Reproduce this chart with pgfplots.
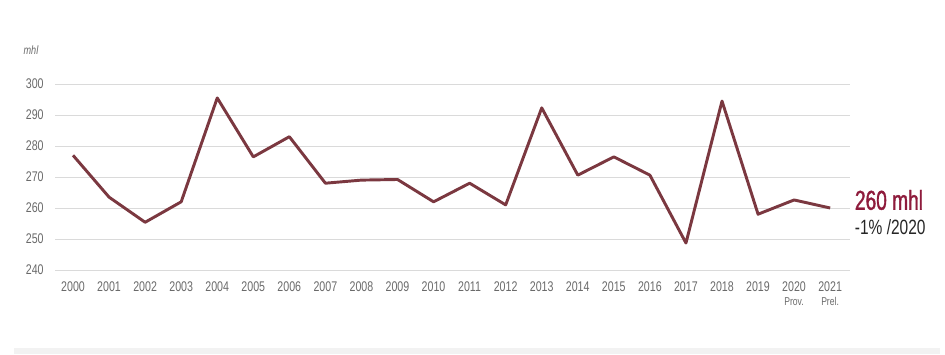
\documentclass[border=0pt]{standalone}
\usepackage{fontspec}
\setmainfont{Liberation Sans}[FakeStretch=0.76]
\usepackage{pgfplots}
\pgfplotsset{compat=1.18}
\definecolor{linec}{HTML}{7B3840}
\definecolor{accent}{HTML}{8E1B3C}
\definecolor{gridc}{HTML}{DADADA}
\definecolor{tickc}{HTML}{6A6A6A}
\begin{document}
\begin{tikzpicture}
\useasboundingbox (0,0) rectangle (708.75pt,-265.5pt);
\fill[gray!10] (10.5pt,-261pt) rectangle (705pt,-265.5pt);
\node[font=\itshape\fontsize{9}{10}\selectfont, text=tickc, anchor=center] at (23.25pt,-37.5pt) {mhl};
\coordinate (A) at (41.25pt,-202.5pt);
\begin{axis}[
  at={(A)}, anchor=south west,
  width=596.25pt, height=139.5pt, scale only axis,
  xmin=1999.5, xmax=2021.55, ymin=240, ymax=300,
  axis line style={draw=none},
  ytick={240,250,...,300},
  xtick={2000,...,2021},
  xticklabels={2000,2001,2002,2003,2004,2005,2006,2007,2008,2009,2010,2011,2012,2013,2014,2015,2016,2017,2018,2019,{2020\\[0pt]{\fontsize{8.5}{9}\selectfont Prov.}},{2021\\[0pt]{\fontsize{8.5}{9}\selectfont Prel.}}},
  xticklabel style={align=center, anchor=north, yshift=-5pt, font=\fontsize{10.5}{11}\selectfont, text=tickc},
  yticklabel style={anchor=east, xshift=-5pt, font=\fontsize{10.5}{11}\selectfont, text=tickc},
  /pgf/number format/assume math mode=true,
  ymajorgrids, major grid style={gridc, line width=0.6pt},
  tick style={draw=none},
  clip=false,
]
\addplot[linec, line width=2.2pt, line join=round] coordinates {
(2000,277) (2001,263.5) (2002,255.4) (2003,262) (2004,295.5) (2005,276.5) (2006,283) (2007,268) (2008,269) (2009,269.2) (2010,262) (2011,268) (2012,261) (2013,292.3) (2014,270.6) (2015,276.5) (2016,270.6) (2017,248.7) (2018,294.5) (2019,258) (2020,262.6) (2021,260)
};
\end{axis}
\node[anchor=west, text=accent, font=\fontsize{20.5}{21}\selectfont, inner sep=0pt] at (641pt,-150pt) {\addfontfeature{FakeStretch=0.7,FakeBold=1.2}260 mhl};
\node[anchor=west, text=black!85, font=\fontsize{15.5}{16}\selectfont, inner sep=0pt] at (641pt,-170.5pt) {\addfontfeature{FakeStretch=0.75}-1\% /2020};
\end{tikzpicture}
\end{document}
